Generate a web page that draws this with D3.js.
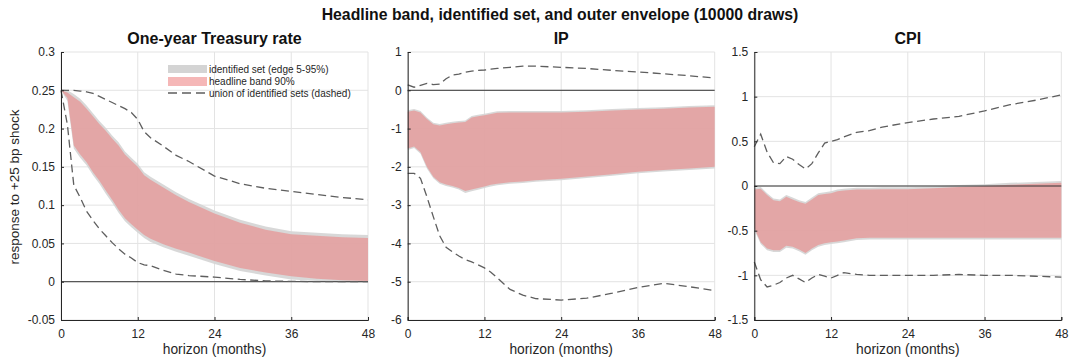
<!DOCTYPE html>
<html>
<head>
<meta charset="utf-8">
<script src="https://cdn.jsdelivr.net/npm/d3@7"></script>
<style>
  body { margin: 0; background: #fff; }
  svg { font-family: "Liberation Sans", Arial, sans-serif; }
  .tick-label { font-size: 12px; fill: #262626; }
  .grid line { stroke: #e3e3e3; stroke-width: 1; }
</style>
</head>
<body>
<div id="chart"></div>
<script>
// horizons (months) at which the responses are read
let horizons = [0, 1, 2, 3, 4, 5, 6, 7, 8, 9, 10, 11, 12, 13, 14, 16, 18, 20, 24, 28, 32, 36, 40, 44, 48];

let panelTitles = ['One-year Treasury rate', 'IP', 'CPI'];
let xTicks = [0, 12, 24, 36, 48];
let rateTicks = [-0.05, 0, 0.05, 0.1, 0.15, 0.2, 0.25, 0.3];
let ipTicks = [-6, -5, -4, -3, -2, -1, 0, 1];
let cpiTicks = [-1.5, -1, -0.5, 0, 0.5, 1, 1.5];

// one-year Treasury rate
let rateBandHi = [.250, .247, .241, .235, .226, .216, .206, .197, .187, .178, .166, .158, .150, .139, .133, .123, .113, .104, .089, .077, .068, .062, .060, .058, .057];
let rateBandLo = [.250, .240, .178, .166, .156, .143, .132, .119, .107, .094, .083, .075, .068, .061, .056, .049, .043, .038, .027, .018, .012, .007, .004, .002, .001];
let rateSetHi = [.252, .250, .245, .239, .230, .220, .210, .201, .191, .182, .170, .162, .154, .143, .137, .127, .117, .108, .093, .081, .072, .066, .064, .062, .061];
let rateSetLo = [.250, .236, .174, .162, .152, .139, .128, .115, .103, .090, .079, .071, .064, .057, .052, .045, .039, .034, .023, .014, .008, .003, .001, -.001, -.001];
let rateEnvHi = [.250, .250, .250, .249, .248, .246, .242, .238, .234, .230, .226, .221, .212, .196, .188, .177, .165, .157, .138, .128, .122, .118, .114, .110, .107];
let rateEnvLo = [.250, .205, .126, .110, .092, .080, .069, .060, .051, .043, .036, .031, .025, .022, .021, .015, .010, .008, .006, .003, .001, .0005, 0, 0, 0];

// IP
let ipBandHi = [-0.56, -0.53, -0.58, -0.75, -0.89, -0.92, -0.89, -0.86, -0.84, -0.83, -0.71, -0.68, -0.65, -0.62, -0.59, -0.58, -0.58, -0.58, -0.58, -0.56, -0.53, -0.50, -0.48, -0.45, -0.43];
let ipBandLo = [-1.52, -1.47, -1.62, -2.00, -2.26, -2.40, -2.46, -2.50, -2.55, -2.63, -2.59, -2.55, -2.51, -2.47, -2.44, -2.40, -2.38, -2.35, -2.31, -2.25, -2.19, -2.13, -2.08, -2.04, -2.00];
let ipSetHi = [-0.52, -0.49, -0.54, -0.71, -0.85, -0.88, -0.85, -0.82, -0.80, -0.79, -0.67, -0.64, -0.61, -0.58, -0.55, -0.54, -0.54, -0.54, -0.54, -0.52, -0.49, -0.46, -0.44, -0.41, -0.39];
let ipSetLo = [-1.56, -1.51, -1.66, -2.04, -2.30, -2.44, -2.50, -2.54, -2.59, -2.68, -2.64, -2.60, -2.55, -2.51, -2.48, -2.44, -2.42, -2.39, -2.35, -2.29, -2.23, -2.17, -2.12, -2.08, -2.04];
let ipEnvHi = [0.14, 0.08, 0.13, 0.18, 0.15, 0.16, 0.30, 0.40, 0.42, 0.47, 0.50, 0.52, 0.53, 0.55, 0.57, 0.60, 0.63, 0.63, 0.60, 0.57, 0.52, 0.48, 0.43, 0.38, 0.32];
let ipEnvLo = [-2.17, -2.17, -2.30, -2.78, -3.30, -3.80, -4.10, -4.22, -4.33, -4.42, -4.48, -4.56, -4.64, -4.75, -4.90, -5.20, -5.35, -5.44, -5.48, -5.43, -5.30, -5.15, -5.04, -5.13, -5.23];

// CPI
let cpiBandHi = [-0.04, -0.03, -0.10, -0.16, -0.17, -0.12, -0.15, -0.18, -0.20, -0.15, -0.10, -0.09, -0.08, -0.06, -0.05, -0.04, -0.04, -0.035, -0.035, -0.025, -0.01, 0.00, 0.015, 0.025, 0.035];
let cpiBandLo = [-0.47, -0.63, -0.70, -0.72, -0.72, -0.67, -0.68, -0.71, -0.75, -0.70, -0.66, -0.64, -0.63, -0.62, -0.61, -0.585, -0.58, -0.58, -0.58, -0.58, -0.58, -0.58, -0.58, -0.58, -0.58];
let cpiSetHi = [-0.02, -0.01, -0.08, -0.14, -0.15, -0.10, -0.13, -0.16, -0.18, -0.13, -0.08, -0.07, -0.06, -0.04, -0.03, -0.02, -0.02, -0.015, -0.015, -0.005, 0.01, 0.02, 0.035, 0.045, 0.055];
let cpiSetLo = [-0.49, -0.65, -0.72, -0.74, -0.74, -0.69, -0.70, -0.73, -0.77, -0.72, -0.68, -0.66, -0.65, -0.64, -0.63, -0.605, -0.60, -0.60, -0.60, -0.60, -0.60, -0.60, -0.60, -0.60, -0.60];
let cpiEnvHi = [0.44, 0.58, 0.38, 0.26, 0.25, 0.33, 0.30, 0.24, 0.19, 0.25, 0.37, 0.48, 0.50, 0.52, 0.55, 0.60, 0.62, 0.66, 0.71, 0.75, 0.78, 0.84, 0.91, 0.96, 1.02];
let cpiEnvLo = [-0.85, -1.05, -1.13, -1.11, -1.08, -1.03, -1.00, -1.04, -1.08, -1.03, -0.99, -1.01, -1.03, -1.00, -0.97, -0.99, -1.00, -1.00, -1.00, -1.00, -0.99, -1.00, -1.00, -1.01, -1.02];

let legendLabels = ['identified set (edge 5-95%)', 'headline band 90%', 'union of identified sets (dashed)'];
let chartTitle = 'Headline band, identified set, and outer envelope (10000 draws)';

let width = 1069;
let height = 357;
let plotTop = 52, plotBottom = 320;
let panelLeft = [61, 407.7, 754.3];
let panelWidth = 307;

let panels = [
  {title: panelTitles[0], ticks: rateTicks, bandLo: rateBandLo, bandHi: rateBandHi, setLo: rateSetLo, setHi: rateSetHi, envLo: rateEnvLo, envHi: rateEnvHi},
  {title: panelTitles[1], ticks: ipTicks, bandLo: ipBandLo, bandHi: ipBandHi, setLo: ipSetLo, setHi: ipSetHi, envLo: ipEnvLo, envHi: ipEnvHi},
  {title: panelTitles[2], ticks: cpiTicks, bandLo: cpiBandLo, bandHi: cpiBandHi, setLo: cpiSetLo, setHi: cpiSetHi, envLo: cpiEnvLo, envHi: cpiEnvHi}
];

let svg = d3.select('#chart')
  .append('svg')
  .attr('width', width)
  .attr('height', height);

svg.append('text')
  .attr('x', 560)
  .attr('y', 20)
  .attr('text-anchor', 'middle')
  .style('font-size', '15.8px')
  .style('font-weight', 'bold')
  .attr('fill', '#111')
  .text(chartTitle);

panels.forEach((p, i) => {
  let x0 = panelLeft[i];
  let xScale = d3.scaleLinear().domain([0, 48]).range([x0, x0 + panelWidth]);
  let yScale = d3.scaleLinear()
    .domain([p.ticks[0], p.ticks[p.ticks.length - 1]])
    .range([plotBottom, plotTop]);

  let g = svg.append('g');

  // grid
  let grid = g.append('g').attr('class', 'grid');
  grid.selectAll('.gy').data(p.ticks).enter().append('line')
    .attr('x1', x0).attr('x2', x0 + panelWidth)
    .attr('y1', d => yScale(d)).attr('y2', d => yScale(d));
  grid.selectAll('.gx').data(xTicks).enter().append('line')
    .attr('x1', d => xScale(d)).attr('x2', d => xScale(d))
    .attr('y1', plotTop).attr('y2', plotBottom);

  let rows = horizons.map((h, k) => ({
    h: h,
    bandLo: p.bandLo[k], bandHi: p.bandHi[k],
    setLo: p.setLo[k], setHi: p.setHi[k],
    envLo: p.envLo[k], envHi: p.envHi[k]
  }));

  let setArea = d3.area()
    .x(d => xScale(d.h))
    .y0(d => yScale(d.setLo))
    .y1(d => yScale(d.setHi));
  let bandArea = d3.area()
    .x(d => xScale(d.h))
    .y0(d => yScale(d.bandLo))
    .y1(d => yScale(d.bandHi));

  g.append('path').datum(rows)
    .attr('d', setArea)
    .attr('fill', '#d4d4d4')
    .attr('fill-opacity', 0.9);
  g.append('path').datum(rows)
    .attr('d', bandArea)
    .attr('fill', '#ed7e7e')
    .attr('fill-opacity', 0.55);

  // zero line
  g.append('line')
    .attr('x1', x0).attr('x2', x0 + panelWidth)
    .attr('y1', yScale(0)).attr('y2', yScale(0))
    .attr('stroke', '#333').attr('stroke-width', 1);

  ['envLo', 'envHi'].forEach(key => {
    g.append('path').datum(rows)
      .attr('d', d3.line().x(d => xScale(d.h)).y(d => yScale(d[key])))
      .attr('fill', 'none')
      .attr('stroke', '#5e5e5e')
      .attr('stroke-width', 1.3)
      .attr('stroke-dasharray', '8,4.5');
  });

  // axes
  let yAxis = d3.axisLeft(yScale).tickValues(p.ticks).tickSize(-3).tickPadding(6)
    .tickFormat(d => String(+d.toFixed(2)));
  let xAxis = d3.axisBottom(xScale).tickValues(xTicks).tickSize(-3).tickPadding(9);

  let ya = g.append('g').attr('transform', 'translate(' + x0 + ',0)').call(yAxis);
  let xa = g.append('g').attr('transform', 'translate(0,' + plotBottom + ')').call(xAxis);
  [ya, xa].forEach(a => {
    a.select('.domain').attr('stroke', '#262626');
    a.selectAll('.tick line').attr('stroke', '#262626');
    a.selectAll('.tick text').attr('class', 'tick-label')
      .style('font-family', '"Liberation Sans", Arial, sans-serif');
  });

  g.append('text')
    .attr('x', x0 + panelWidth / 2)
    .attr('y', 44)
    .attr('text-anchor', 'middle')
    .style('font-size', '16px')
    .style('font-weight', 'bold')
    .attr('fill', '#111')
    .text(p.title);

  g.append('text')
    .attr('x', x0 + panelWidth / 2)
    .attr('y', 354)
    .attr('text-anchor', 'middle')
    .style('font-size', '13.8px')
    .attr('fill', '#262626')
    .text('horizon (months)');
});

svg.append('text')
  .attr('transform', 'translate(19,187) rotate(-90)')
  .attr('text-anchor', 'middle')
  .style('font-size', '13.5px')
  .attr('fill', '#262626')
  .text('response to +25 bp shock');

// legend
let legend = svg.append('g').attr('transform', 'translate(168,0)');
legend.append('rect').attr('x', 0).attr('y', 65).attr('width', 39).attr('height', 8).attr('fill', '#d4d4d4');
legend.append('rect').attr('x', 0).attr('y', 77).attr('width', 39).attr('height', 9).attr('fill', '#f5b7b7');
legend.append('line').attr('x1', 0).attr('x2', 39).attr('y1', 93).attr('y2', 93)
  .attr('stroke', '#5e5e5e').attr('stroke-width', 1.3).attr('stroke-dasharray', '9,5');
legend.selectAll('.lt').data(legendLabels).enter().append('text')
  .attr('x', 41)
  .attr('y', (d, i) => 73 + i * 11.8)
  .style('font-size', '10px')
  .attr('fill', '#262626')
  .text(d => d);
</script>
</body>
</html>
